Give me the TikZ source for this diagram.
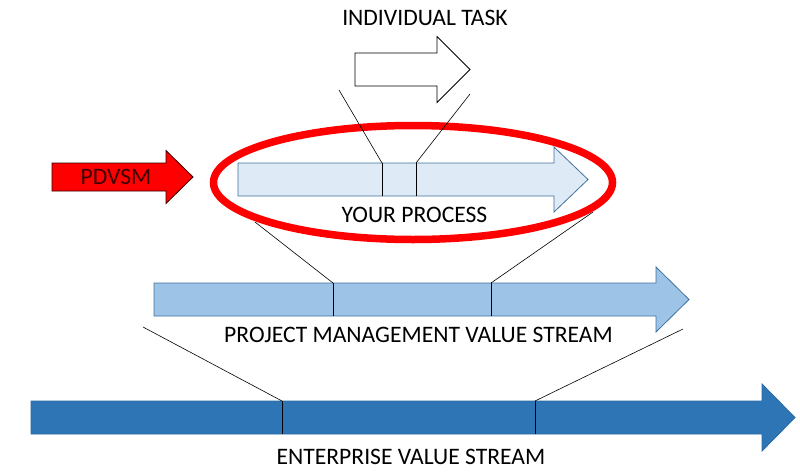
\documentclass[tikz,border=0pt]{standalone}
\usepackage{fontspec}
\setmainfont{Carlito}
\usepackage{tikz}
\usetikzlibrary{shapes.geometric}
\definecolor{entcolor}{RGB}{46,117,182}
\definecolor{pmcolor}{RGB}{157,195,230}
\definecolor{proccolor}{RGB}{222,235,247}
\definecolor{edgecolor}{RGB}{65,113,156}
\definecolor{pdvsmtext}{RGB}{60,0,0}

% options, left, head start, tip, mid y, half body, half head
\newcommand{\flowarrow}[7]{%
  \draw[#1] (#2,#5-#6) -- (#3,#5-#6) -- (#3,#5-#7) -- (#4,#5)
    -- (#3,#5+#7) -- (#3,#5+#6) -- (#2,#5+#6) -- cycle;}

\begin{document}
\begin{tikzpicture}[
    x=1pt, y=-1pt,
    lbl/.style={inner sep=0pt, font=\fontsize{23.6}{24}\selectfont},
    zoomline/.style={black, line width=0.6pt},
    divider/.style={black, line width=0.8pt}
]
    \useasboundingbox (0,0) rectangle (800,474);

    % Stream arrows
    \flowarrow{fill=entcolor, draw=entcolor!90!black, line width=0.8pt}{31}{762}{795}{417.5}{16.5}{33.5}
    \flowarrow{fill=pmcolor, draw=edgecolor, line width=0.8pt}{154}{656}{689}{299.5}{16.5}{32.5}
    \flowarrow{fill=proccolor, draw=edgecolor, line width=0.8pt}{238}{554}{588}{179.5}{16.5}{32.5}
    \flowarrow{fill=white, draw=black, line width=0.8pt}{355}{437}{470}{69.5}{16.5}{33}
    \flowarrow{fill=red, draw=black!80!red, line width=0.8pt}{52}{166}{193}{177}{14}{26.5}

    % Division points
    \coordinate (ent-a) at (282,401);  \coordinate (ent-a-end) at (282,434);
    \coordinate (ent-b) at (535,401);  \coordinate (ent-b-end) at (535,434);
    \coordinate (pm-a) at (333,283);   \coordinate (pm-a-end) at (333,316);
    \coordinate (pm-b) at (491,283);   \coordinate (pm-b-end) at (491,316);
    \coordinate (proc-a) at (382,163); \coordinate (proc-a-end) at (382,196);
    \coordinate (proc-b) at (416,163); \coordinate (proc-b-end) at (416,196);

    \draw[divider] (ent-a) -- (ent-a-end);
    \draw[divider] (ent-b) -- (ent-b-end);
    \draw[divider] (pm-a) -- (pm-a-end);
    \draw[divider] (pm-b) -- (pm-b-end);
    \draw[divider] (proc-a) -- (proc-a-end);
    \draw[divider] (proc-b) -- (proc-b-end);

    % Focus ring
    \node[ellipse, draw=red, line width=7.5pt, minimum width=399pt, minimum height=114pt] (focus) at (413,182.5) {};

    % Zoom lines
    \coordinate (task-l) at (339,90);
    \coordinate (task-r) at (470,94);
    \coordinate (focus-l) at (255,222);
    \coordinate (focus-r) at (593,212);
    \coordinate (pm-l) at (143,327);
    \coordinate (pm-r) at (683,329);
    \draw[zoomline] (task-l) -- (proc-a);
    \draw[zoomline] (task-r) -- (proc-b);
    \draw[zoomline] (focus-l) -- (pm-a);
    \draw[zoomline] (focus-r) -- (pm-b);
    \draw[zoomline] (pm-l) -- (ent-a);
    \draw[zoomline] (pm-r) -- (ent-b);

    % Labels
    \node[lbl] (task) at (425,18) {INDIVIDUAL TASK};
    \node[lbl, text=pdvsmtext] (pdvsm) at (116,177) {PDVSM};
    \node[lbl] (proc) at (414.5,214.5) {YOUR PROCESS};
    \node[lbl] (pm) at (418.5,335) {PROJECT MANAGEMENT VALUE STREAM};
    \node[lbl] (ent) at (411,457) {ENTERPRISE VALUE STREAM};
\end{tikzpicture}
\end{document}
